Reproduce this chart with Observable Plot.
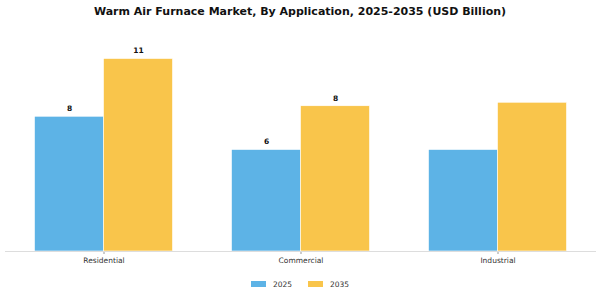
<!DOCTYPE html>
<html><head><meta charset="utf-8">
<script src="https://cdn.jsdelivr.net/npm/d3@7"></script>
<script src="https://cdn.jsdelivr.net/npm/@observablehq/plot@0.6"></script>
<style>
body{margin:0;background:#fff;font-family:"DejaVu Sans",sans-serif;width:600px;height:300px;overflow:hidden;}
#title{height:26px;line-height:24px;text-align:center;font-weight:bold;font-size:11px;color:#111;}
#chart svg{display:block;}
#chart [aria-label="fx-axis tick"] path{stroke:#999;}
#legend{display:flex;justify-content:center;align-items:center;height:16px;font-size:7.5px;color:#333;}
.item{display:flex;align-items:center;margin:0 8px;}
.sw{width:15px;height:6px;margin-right:7px;}
</style></head><body>
<div id="title">Warm Air Furnace Market, By Application, 2025-2035 (USD Billion)</div>
<div id="chart"></div>
<div id="legend"></div>
<script>
const categories = ["Residential","Commercial","Industrial"];
const years = ["2025","2035"];
const values2025 = [7.7, 5.8, 5.8];
const values2035 = [11.0, 8.3, 8.5];
const labels2025 = ["8","6",""];
const labels2035 = ["11","8",""];
const colors = ["#5DB3E6","#F9C54B"];

const data = categories.flatMap((c,i)=>[
  {category:c, year:years[0], value:values2025[i], label:labels2025[i]},
  {category:c, year:years[1], value:values2035[i], label:labels2035[i]}
]);

const chart = Plot.plot({
  width:600, height:250,
  marginLeft:4.5, marginRight:4.5, marginTop:15, marginBottom:25,
  style:{fontFamily:"DejaVu Sans", fontSize:"7.5px", background:"white", color:"#333"},
  fx:{domain:categories, padding:0, label:null, axis:"bottom", tickSize:3, tickPadding:3},
  x:{domain:years, axis:null, paddingInner:0, paddingOuter:0.4275},
  y:{domain:[0,12], axis:null},
  color:{domain:years, range:colors},
  marks:[
    Plot.barY(data,{fx:"category", x:"year", y:"value", fill:"year", stroke:"white", strokeWidth:0.6}),
    Plot.ruleY([0],{stroke:"#ddd", strokeWidth:1}),
    Plot.text(data,{fx:"category", x:"year", y:"value", text:"label", dy:-8, fontWeight:"bold", fontSize:7.5, fill:"#111"})
  ]
});
document.getElementById("chart").appendChild(chart);

const legend = document.getElementById("legend");
years.forEach((y,i)=>{
  const it = document.createElement("div"); it.className="item";
  const sw = document.createElement("div"); sw.className="sw"; sw.style.background=colors[i];
  const t = document.createElement("span"); t.textContent=y;
  it.appendChild(sw); it.appendChild(t); legend.appendChild(it);
});
</script>
</body></html>
